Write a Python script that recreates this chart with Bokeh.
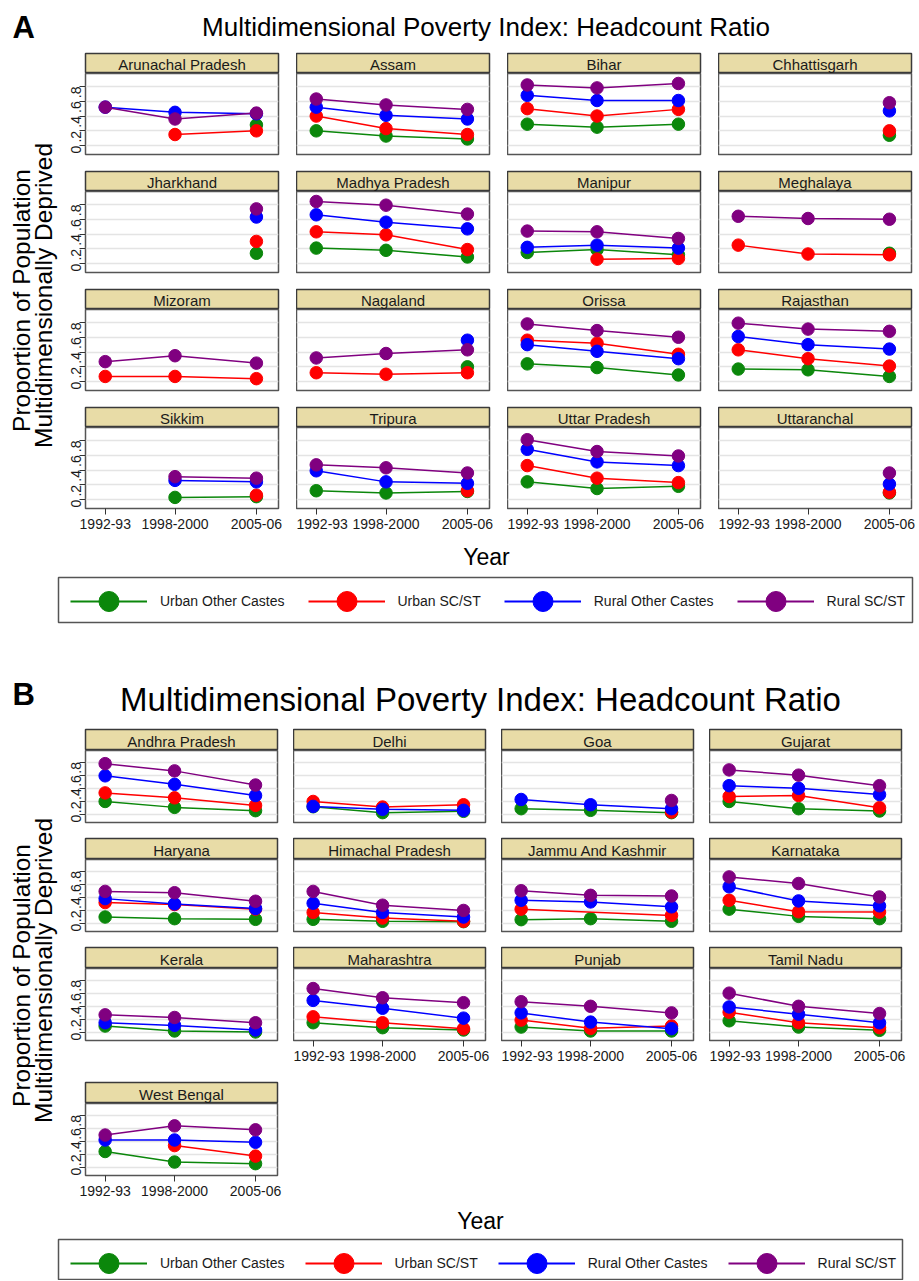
import numpy as np
from math import pi
from bokeh.plotting import figure
from bokeh.layouts import column, row
from bokeh.models import (Range1d, Label, FixedTicker, Grid, CustomJSTickFormatter,
                          Legend, LegendItem)
from bokeh.embed import file_html
from bokeh.resources import INLINE

N = float("nan")

# ---------------- data ----------------
PERIODS = ["1992-93", "1998-2000", "2005-06"]
PERIOD_X = [1993, 1999, 2006]
SERIES = ["Urban Other Castes", "Urban SC/ST", "Rural Other Castes", "Rural SC/ST"]

STATES_A = ["Arunachal Pradesh", "Assam", "Bihar", "Chhattisgarh",
            "Jharkhand", "Madhya Pradesh", "Manipur", "Meghalaya",
            "Mizoram", "Nagaland", "Orissa", "Rajasthan",
            "Sikkim", "Tripura", "Uttar Pradesh", "Uttaranchal"]
A_URBAN_OTHER = [[N, N, 0.28], [0.20, 0.13, 0.09], [0.29, 0.25, 0.29], [N, N, 0.14],
                 [N, N, 0.14], [0.21, 0.18, 0.09], [0.15, 0.19, 0.12], [N, N, 0.14],
                 [N, N, N], [N, N, 0.20], [0.24, 0.19, 0.09], [0.17, 0.16, 0.07],
                 [N, 0.03, 0.04], [0.12, 0.09, 0.11], [0.24, 0.15, 0.18], [N, N, 0.09]]
A_URBAN_SCST = [[N, 0.15, 0.20], [0.40, 0.23, 0.15], [0.50, 0.40, 0.49], [N, N, 0.20],
                [N, N, 0.30], [0.43, 0.39, 0.19], [N, 0.06, 0.07], [0.25, 0.13, 0.12],
                [0.07, 0.07, 0.04], [0.12, 0.10, 0.12], [0.56, 0.52, 0.37], [0.43, 0.31, 0.21],
                [N, N, 0.06], [N, N, 0.12], [0.46, 0.29, 0.23], [N, N, 0.10]]
A_RURAL_OTHER = [[0.52, 0.45, 0.43], [0.52, 0.41, 0.36], [0.68, 0.61, 0.61], [N, N, 0.47],
                 [N, N, 0.63], [0.66, 0.56, 0.47], [0.22, 0.25, 0.21], [N, N, N],
                 [N, N, N], [N, N, 0.56], [0.50, 0.41, 0.31], [0.61, 0.50, 0.44],
                 [N, 0.26, 0.24], [0.39, 0.24, 0.22], [0.68, 0.51, 0.46], [N, N, 0.21]]
A_RURAL_SCST = [[0.52, 0.36, 0.44], [0.63, 0.55, 0.49], [0.82, 0.78, 0.84], [N, N, 0.58],
                [N, N, 0.74], [0.84, 0.79, 0.67], [0.44, 0.43, 0.34], [0.64, 0.61, 0.60],
                [0.27, 0.35, 0.25], [0.32, 0.38, 0.43], [0.78, 0.69, 0.60], [0.79, 0.71, 0.68],
                [N, 0.31, 0.29], [0.47, 0.43, 0.36], [0.81, 0.65, 0.59], [N, N, 0.36]]

STATES_B = ["Andhra Pradesh", "Delhi", "Goa", "Gujarat",
            "Haryana", "Himachal Pradesh", "Jammu And Kashmir", "Karnataka",
            "Kerala", "Maharashtra", "Punjab", "Tamil Nadu",
            "West Bengal"]
B_URBAN_OTHER = [[0.20, 0.11, 0.06], [0.12, 0.03, 0.05], [0.09, 0.065, 0.03], [0.20, 0.09, 0.055],
                 [0.10, 0.075, 0.065], [0.065, 0.035, 0.03], [0.06, 0.075, 0.035], [0.22, 0.11, 0.075],
                 [0.10, 0.025, 0.01], [0.15, 0.075, 0.04], [0.085, 0.025, 0.025], [0.18, 0.085, 0.035],
                 [0.245, 0.085, 0.06]]
B_URBAN_SCST = [[0.33, 0.255, 0.14], [0.20, 0.115, 0.15], [N, N, 0.04], [0.275, 0.29, 0.105],
                [0.32, 0.29, 0.22], [0.17, 0.085, 0.035], [0.22, N, 0.125], [0.355, 0.18, 0.175],
                [N, N, N], [0.24, 0.15, 0.06], [0.19, 0.065, 0.10], [0.31, 0.15, 0.075],
                [N, 0.335, 0.175]]
B_RURAL_OTHER = [[0.59, 0.46, 0.29], [0.125, 0.08, 0.065], [0.23, 0.15, 0.09], [0.44, 0.40, 0.305],
                 [0.38, 0.30, 0.23], [0.31, 0.17, 0.10], [0.355, 0.33, 0.255], [0.56, 0.345, 0.27],
                 [0.15, 0.11, 0.04], [0.49, 0.37, 0.22], [0.30, 0.16, 0.06], [0.39, 0.28, 0.15],
                 [0.42, 0.42, 0.385]]
B_RURAL_SCST = [[0.775, 0.665, 0.45], [N, N, N], [N, N, 0.215], [0.68, 0.60, 0.44],
                [0.49, 0.47, 0.34], [0.49, 0.28, 0.20], [0.50, 0.43, 0.42], [0.71, 0.61, 0.405],
                [0.27, 0.23, 0.15], [0.67, 0.53, 0.455], [0.47, 0.40, 0.30], [0.60, 0.40, 0.29],
                [0.495, 0.635, 0.575]]

Y_TICKS = [0, 0.2, 0.4, 0.6, 0.8]

# ---------------- style ----------------
FONT = "Liberation Sans"
TEXT = "#1a1a1a"
COLORS = ["#0b870b", "#ff0000", "#0000ff", "#800080"]
STRIP_FILL = "#e8dca7"
STRIP_EDGE = "#3a3a3a"
FRAME_EDGE = "#555555"
GRID = "#e4e4e4"
XR = (1991.3, 2007.9)
YR = (-0.12, 0.975)
FULL_W = 918
YLAB_W = 58


def base_fig(w, h, xr, yr, **kw):
    f = figure(width=w, height=h, x_range=Range1d(*xr), y_range=Range1d(*yr),
               tools="", toolbar_location=None, output_backend="svg", **kw)
    f.frame_align = False
    f.grid.visible = False
    return f


def text_fig(w, h):
    return base_fig(w, h, (0, w), (0, h), x_axis_location=None, y_axis_location=None,
                    min_border_left=0, min_border_right=0, min_border_top=0,
                    min_border_bottom=0, outline_line_color=None)


def make_panel(name, series_vals, left, right, frame_w, strip_h, frame_h, bottom,
               show_x, show_y):
    w = left + frame_w + right
    s = base_fig(w, strip_h + 1, (0, 1), (0, 1), x_axis_location=None, y_axis_location=None,
                 min_border_left=left, min_border_right=right, min_border_top=1,
                 min_border_bottom=0, background_fill_color=STRIP_FILL,
                 outline_line_color=STRIP_EDGE, outline_line_width=1.5)
    s.add_layout(Label(x=0.5, y=0.45, text=name, text_align="center", text_baseline="middle",
                       text_font=FONT, text_font_size="15px", text_color=TEXT))

    p = base_fig(w, frame_h + bottom, XR, YR,
                 x_axis_location="below" if show_x else None,
                 y_axis_location="left" if show_y else None,
                 min_border_left=left, min_border_right=right, min_border_top=0,
                 min_border_bottom=bottom, outline_line_color=FRAME_EDGE,
                 outline_line_width=1.5)
    p.grid.visible = False
    p.add_layout(Grid(dimension=1, ticker=FixedTicker(ticks=Y_TICKS),
                      grid_line_color=GRID, grid_line_width=1.5))
    if show_x:
        ax = p.xaxis[0]
        ax.ticker = FixedTicker(ticks=PERIOD_X)
        ax.major_label_overrides = {x: lab for x, lab in zip(PERIOD_X, PERIODS)}
        ax.axis_line_color = None
        ax.major_tick_out = 6
        ax.major_tick_in = 0
        ax.minor_tick_line_color = None
        ax.major_tick_line_color = "#333333"
        ax.major_label_standoff = 4
        ax.major_label_text_font = FONT
        ax.major_label_text_font_size = "14px"
        ax.major_label_text_color = TEXT
    if show_y:
        ay = p.yaxis[0]
        ay.ticker = FixedTicker(ticks=Y_TICKS)
        ay.formatter = CustomJSTickFormatter(
            code='return tick == 0 ? "0" : tick.toFixed(1).replace("0.", ".");')
        ay.axis_line_color = None
        ay.major_tick_out = 6
        ay.major_tick_in = 0
        ay.minor_tick_line_color = None
        ay.major_tick_line_color = "#333333"
        ay.major_label_orientation = pi / 2
        ay.major_label_standoff = 3
        ay.major_label_text_font = FONT
        ay.major_label_text_font_size = "14px"
        ay.major_label_text_color = TEXT

    xs = np.array(PERIOD_X, dtype=float)
    for vals, color in zip(series_vals, COLORS):
        v = np.array(vals, dtype=float)
        m = ~np.isnan(v)
        if m.sum() == 0:
            continue
        p.line(x=xs[m], y=v[m], line_color=color, line_width=1.5)
        p.scatter(x=xs[m], y=v[m], size=12.5, fill_color=color, line_color=color)
    return column(s, p, spacing=0)


def header_fig(h, letter, letter_y, title, title_x, title_y, title_size):
    f = text_fig(FULL_W, h)
    f.add_layout(Label(x=12, y=letter_y, text=letter, text_align="left",
                       text_baseline="middle", text_font=FONT, text_font_size="31px",
                       text_font_style="bold", text_color="#000000"))
    f.add_layout(Label(x=title_x, y=title_y, text=title, text_align="center",
                       text_baseline="middle", text_font=FONT,
                       text_font_size=title_size, text_color="#000000"))
    return f


def ylabel_fig(h, cy1, cy2):
    f = text_fig(YLAB_W, h)
    for x, y, t in [(21, cy1, "Proportion of Population"),
                    (43, cy2, "Multidimensionally Deprived")]:
        f.add_layout(Label(x=x, y=y, text=t, angle=pi / 2, text_align="center",
                           text_baseline="middle", text_font=FONT, text_font_size="24.5px",
                           text_color="#000000"))
    return f


def year_fig(h, cx, cy):
    f = text_fig(FULL_W, h)
    f.add_layout(Label(x=cx, y=cy, text="Year", text_align="center", text_baseline="middle",
                       text_font=FONT, text_font_size="23px", text_color="#000000"))
    return f


def legend_fig(h, left, right, top, bottom, loc, spacing):
    f = base_fig(FULL_W, h, (0, 1), (0, 1), x_axis_location=None, y_axis_location=None,
                 min_border_left=left, min_border_right=right, min_border_top=top,
                 min_border_bottom=bottom, outline_line_color="#555555",
                 outline_line_width=1.5)
    items = []
    for name, color in zip(SERIES, COLORS):
        lr = f.line(x=[-1, -2], y=[-1, -2], line_color=color, line_width=2)
        sr = f.scatter(x=[-1], y=[-1], size=20, fill_color=color, line_color=color)
        items.append(LegendItem(label=name, renderers=[lr, sr]))
    leg = Legend(items=items, orientation="horizontal", location=loc, glyph_width=77,
                 glyph_height=50, label_standoff=13, spacing=spacing, padding=0, margin=0,
                 border_line_color=None, background_fill_alpha=0,
                 label_text_font=FONT, label_text_font_size="14px", label_text_color=TEXT)
    f.add_layout(leg)
    return f


def build_grid(states, arrays, frame_w, lefts, rights, strip_h, frame_h, bottoms_fn, xaxis_fn):
    rows = []
    ncol = 4
    for r0 in range(0, len(states), ncol):
        cells = []
        for c in range(ncol):
            i = r0 + c
            if i >= len(states):
                break
            vals = [arr[i] for arr in arrays]
            cells.append(make_panel(states[i], vals, lefts[c], rights[c], frame_w, strip_h,
                                    frame_h, bottoms_fn(r0 // ncol), xaxis_fn(i),
                                    c == 0))
        rows.append(row(*cells, spacing=0))
    return column(*rows, spacing=0)


# ---------------- section A ----------------
headA = header_fig(52, "A", 25, "Multidimensional Poverty Index: Headcount Ratio", 485.5, 26, "26px")
gridA = build_grid(STATES_A, [A_URBAN_OTHER, A_URBAN_SCST, A_RURAL_OTHER, A_RURAL_SCST],
                   193, [27, 0, 0, 0], [18, 18, 18, 7], 20, 81,
                   lambda r: 30 if r == 3 else 16,
                   lambda i: i >= 12)
bodyA = row(ylabel_fig(486, 238, 243), gridA, spacing=0)
yearA = year_fig(34, 486, 16)
legA = legend_fig(56, 58, FULL_W - 912, 5, 6, (12, -4), 23)

# ---------------- section B ----------------
headB = header_fig(100, "B", 34, "Multidimensional Poverty Index: Headcount Ratio", 480, 29, "33px")
gridB = build_grid(STATES_B, [B_URBAN_OTHER, B_URBAN_SCST, B_RURAL_OTHER, B_RURAL_SCST],
                   192, [27, 0, 0, 0], [16, 16, 16, 17], 21, 72,
                   lambda r: {0: 15, 1: 15, 2: 41, 3: 30}[r],
                   lambda i: i >= 9)
bodyB = row(ylabel_fig(477, 230, 235), gridB, spacing=0)
yearB = year_fig(31, 480, 16)
legB = legend_fig(44, 58, FULL_W - 902, 3, 0, (12, -8), 20)

page = column(headA, bodyA, yearA, legA, headB, bodyB, yearB, legB, spacing=0)

with open("out.html", "w") as fh:
    fh.write(file_html(page, INLINE))
